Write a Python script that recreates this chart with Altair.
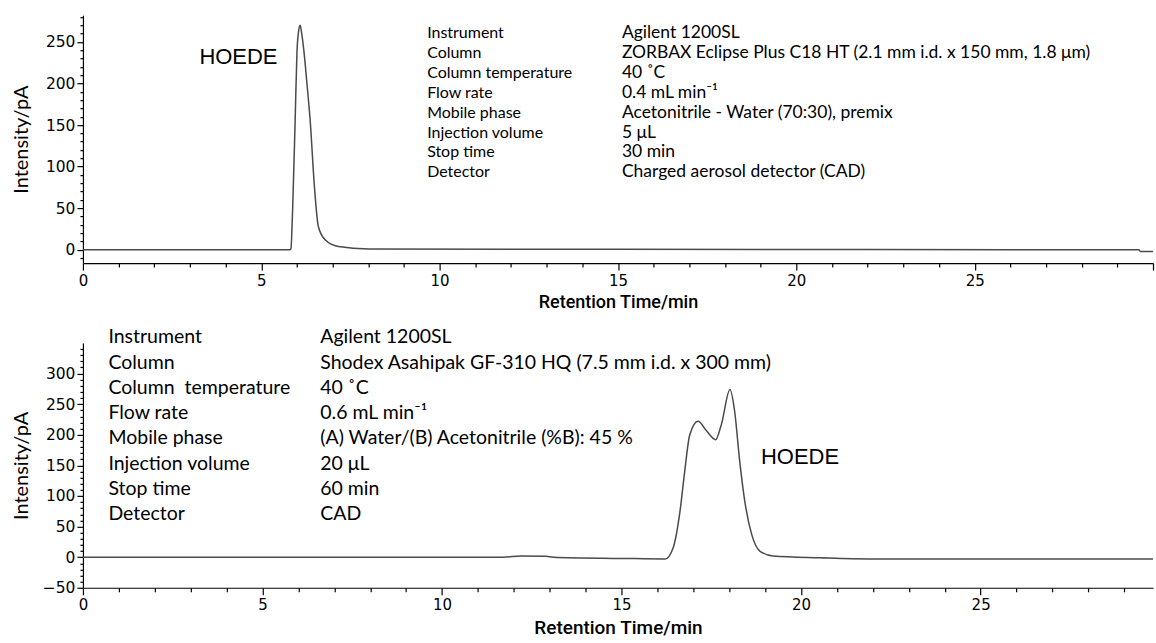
import altair as alt
import pandas as pd

# ---------------- data ----------------
# upper chromatogram (RP column)
top_time = [0, 5.00, 5.80, 5.83, 5.88, 5.95, 6.00, 6.05, 6.09, 6.14, 6.20, 6.28, 6.37, 6.49, 6.60, 6.79, 7.16, 8.0, 15.0, 29.6, 29.65, 30.0]
top_int = [0, 0, 0, 1, 50, 156, 237, 264, 270, 258, 237, 200, 156, 76, 28, 12, 4, 1, 0.5, 0, -2, -2]

# lower chromatogram (GF column)
bot_time = [0, 11.7, 12.2, 12.9, 13.1, 15.0, 16.21, 16.44, 16.63, 16.76, 16.90, 17.13, 17.37, 17.62, 17.78, 18.02, 18.15, 18.29, 18.43, 18.62, 18.85, 19.22, 20.52, 21.91, 29.8]
bot_int = [0, 0, 2, 1.5, 0, -2, -3, 16, 76, 141, 200, 222, 206, 192, 217, 274, 238, 157, 92, 38, 10, 2, -1, -3, -3]

top_labels = ["Instrument", "Column", "Column temperature", "Flow rate", "Mobile phase",
              "Injection volume", "Stop time", "Detector"]
top_values = ["Agilent 1200SL", "ZORBAX Eclipse Plus C18 HT (2.1 mm i.d. x 150 mm, 1.8 \u03bcm)",
              "40 \u02daC", "0.4 mL min\u207b\u00b9", "Acetonitrile - Water (70:30), premix",
              "5 \u03bcL", "30 min", "Charged aerosol detector (CAD)"]

bot_labels = ["Instrument", "Column", "Column\u00a0 temperature", "Flow rate", "Mobile phase",
              "Injection volume", "Stop time", "Detector"]
bot_values = ["Agilent 1200SL", "Shodex Asahipak GF-310 HQ (7.5 mm i.d. x 300 mm)",
              "40 \u02daC", "0.6 mL min\u207b\u00b9", "(A) Water/(B) Acetonitrile (%B): 45 %",
              "20 \u03bcL", "60 min", "CAD"]

peak_name = "HOEDE"

top_x_ticks = list(range(0, 31))
bot_x_ticks = list(range(0, 30))
top_y_ticks = list(range(-10, 290, 10))
bot_y_ticks = list(range(-50, 350, 10))

# ---------------- layout constants ----------------
TOP_X = [0, 30]
TOP_Y = [-16, 282]
BOT_X = [0, 29.8]
BOT_Y = [-50, 350]
W = 1071
TOP_H = 248
BOT_H = 245

LINE_COLOR = "#4a4a4a"
INFO_FONT = "Lato"
TICK_FONT = "DejaVu Sans"


def x_axis(ticks, title_pad, title_size):
    return alt.Axis(
        values=ticks,
        labelExpr="datum.value % 5 === 0 && datum.value < 30 ? datum.label : ''",
        tickSize={"condition": {"test": "datum.value % 5 === 0", "value": 7}, "value": 4},
        tickColor="black", domainColor="black", tickWidth=1.2, domainWidth=1.2,
        labelFont=TICK_FONT, labelFontSize=15, labelColor="black", labelPadding=3,
        labelFlush=False, labelOverlap=False, labelBound=False,
        title="Retention Time/min", titleFont="Roboto", titleFontSize=title_size,
        titleFontWeight=500, titleColor="black", titlePadding=title_pad,
        grid=False,
    )


def y_axis(ticks, maxlabel):
    return alt.Axis(
        values=ticks,
        labelExpr=f"datum.value % 50 === 0 && datum.value <= {maxlabel} ? datum.label : ''",
        tickSize={"condition": {"test": "datum.value % 50 === 0", "value": 6}, "value": 3},
        tickColor="black", domainColor="black", tickWidth=1.2, domainWidth=1.2,
        labelFont=TICK_FONT, labelFontSize=15.5, labelColor="black", labelPadding=2,
        labelOverlap=False, labelBound=False,
        minExtent=44, maxExtent=44,
        title="Intensity/pA", titleFont=INFO_FONT, titleFontSize=20,
        titleFontWeight="normal", titleColor="black", titlePadding=7,
        grid=False,
    )


def panel(times, ints, xdom, ydom, xticks, yticks, maxlabel, title_pad, title_size,
          labels, values, lab_t, val_t, row0, rowstep, lab_size, val_size,
          name_t, name_v, name_size, h):
    xs = alt.Scale(domain=xdom, nice=False, zero=False)
    ys = alt.Scale(domain=ydom, nice=False, zero=False)
    xa = x_axis(xticks, title_pad, title_size)
    ya = y_axis(yticks, maxlabel)

    def X():
        return alt.X("t:Q", scale=xs, axis=xa)

    def Y():
        return alt.Y("v:Q", scale=ys, axis=ya)

    trace = pd.DataFrame({"t": times, "v": ints})
    line = alt.Chart(trace).mark_line(color=LINE_COLOR, strokeWidth=1.5,
                                      interpolate="monotone").encode(x=X(), y=Y())
    n = len(labels)
    rows_v = [row0 - rowstep * i for i in range(n)]
    lab_df = pd.DataFrame({"t": [lab_t] * n, "v": rows_v, "s": labels})
    val_df = pd.DataFrame({"t": [val_t] * n, "v": rows_v, "s": values})
    lab = alt.Chart(lab_df).mark_text(align="left", baseline="middle", font=INFO_FONT,
                                      fontSize=lab_size, color="black").encode(
        x=X(), y=Y(), text="s:N")
    val = alt.Chart(val_df).mark_text(align="left", baseline="middle", font=INFO_FONT,
                                      fontSize=val_size, color="black").encode(
        x=X(), y=Y(), text="s:N")
    name_df = pd.DataFrame({"t": [name_t], "v": [name_v], "s": [peak_name]})
    name = alt.Chart(name_df).mark_text(align="center", baseline="middle",
                                        font="Liberation Sans", fontSize=name_size,
                                        color="black").encode(x=X(), y=Y(), text="s:N")
    return alt.layer(line, lab, val, name).properties(width=W, height=h)


top = panel(top_time, top_int, TOP_X, TOP_Y, top_x_ticks, top_y_ticks, 250, 5, 18,
            top_labels, top_values, 9.65, 15.11, 260.4, 23.9, 16, 17.5,
            4.36, 231.5, 22, TOP_H)

bottom = panel(bot_time, bot_int, BOT_X, BOT_Y, bot_x_ticks, bot_y_ticks, 300, 6, 19,
               bot_labels, bot_values, 0.71, 6.61, 359.3, 41.26, 19.5, 19.5,
               19.97, 163.6, 22, BOT_H)

chart = alt.vconcat(top, bottom, spacing=80, bounds="flush").properties(
    padding={"left": 12, "top": 9, "right": 0, "bottom": 0},
    background="white",
).configure_view(stroke=None)

chart.save("out.html", embed_options={"renderer": "svg", "actions": False})
